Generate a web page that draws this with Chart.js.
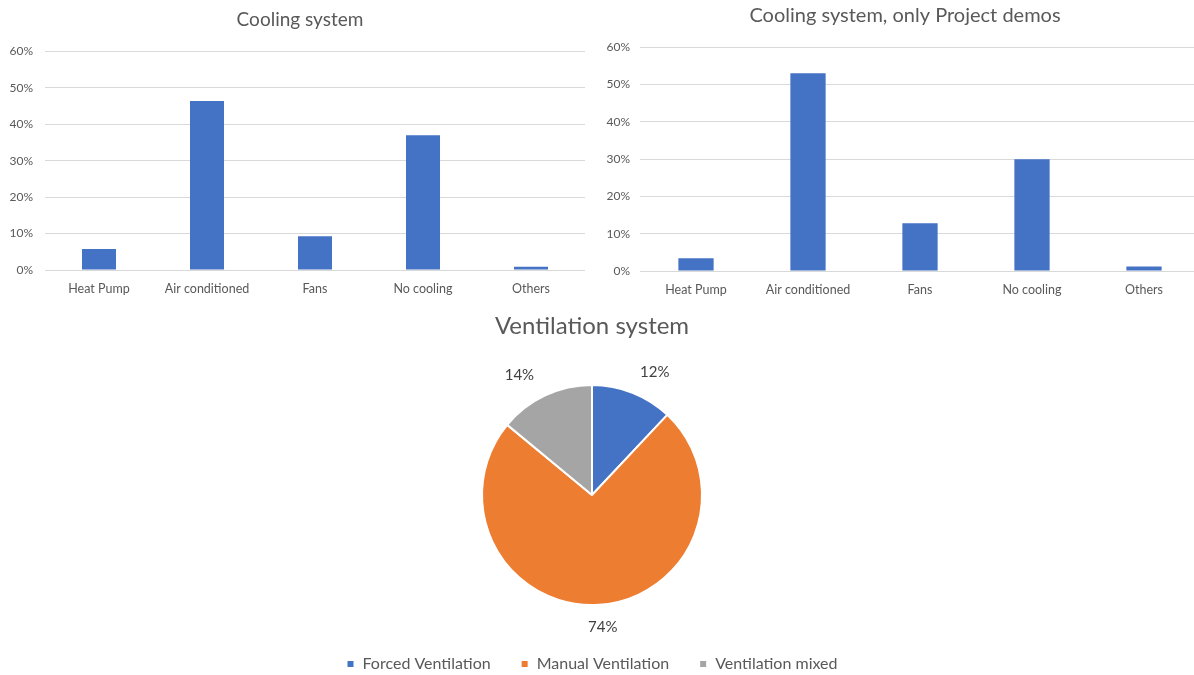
<!DOCTYPE html>
<html>
<head>
<meta charset="utf-8">
<script src="https://cdn.jsdelivr.net/npm/chart.js@4/dist/chart.umd.min.js"></script>
<style>
  html, body { margin: 0; padding: 0; background: #ffffff; overflow: hidden; }
  body { width: 1194px; height: 675px; position: relative; }
  .box { position: absolute; }
  #coolAll { left: 0; top: 0; width: 600px; height: 300px; }
  #coolDemo { left: 595px; top: 0; width: 620px; height: 300px; }
  #vent { left: 272px; top: 300px; width: 640px; height: 382px; }
</style>
</head>
<body>
<div class="box" id="coolAll"><canvas id="c1"></canvas></div>
<div class="box" id="coolDemo"><canvas id="c2"></canvas></div>
<div class="box" id="vent"><canvas id="c3"></canvas></div>
<script>
// Cooling system categories (shared by both bar charts)
const coolingCategories = ['Heat Pump', 'Air conditioned', 'Fans', 'No cooling', 'Others'];
// Share of buildings per cooling system, in percent
const coolingAll = [5.8, 46.4, 9.3, 37.0, 0.9];
const coolingDemos = [3.4, 53.0, 12.8, 29.9, 1.2];
// Value axis ticks (percent)
const percentTicks = [0, 10, 20, 30, 40, 50, 60];

// Ventilation system shares, in percent
const ventCategories = ['Forced Ventilation', 'Manual Ventilation', 'Ventilation mixed'];
const ventShares = [12, 74, 14];

const FONT = 'Lato, "Open Sans", sans-serif';
const TEXT = '#595959';
const GRID = '#d9d9d9';
const BLUE = '#4472C4';

Chart.defaults.font.family = FONT;
Chart.defaults.color = TEXT;
Chart.defaults.animation = false;

function barChart(canvasId, title, values, geom) {
  return new Chart(document.getElementById(canvasId), {
    type: 'bar',
    data: {
      labels: coolingCategories,
      datasets: [{
        data: values,
        backgroundColor: BLUE,
        borderWidth: 0,
        categoryPercentage: 1,
        barPercentage: 0.315
      }]
    },
    options: {
      responsive: true,
      maintainAspectRatio: false,
      layout: { padding: 0 },
      plugins: {
        legend: { display: false },
        tooltip: { enabled: false },
        title: {
          display: true,
          text: title,
          color: TEXT,
          font: { size: geom.titleSize, weight: 'normal', family: FONT, lineHeight: 1.2 },
          padding: { top: geom.titleTop, bottom: geom.titleBottom }
        }
      },
      scales: {
        x: {
          grid: { display: false, drawTicks: false },
          border: { display: false },
          ticks: { color: TEXT, font: { size: 12.5 }, padding: geom.xPad, maxRotation: 0 },
          afterFit: s => { s.height = geom.xHeight; }
        },
        y: {
          min: percentTicks[0],
          max: percentTicks[percentTicks.length - 1],
          afterBuildTicks: s => { s.ticks = percentTicks.map(v => ({ value: v })); },
          grid: { color: GRID, lineWidth: 1, drawTicks: false },
          border: { display: false },
          ticks: { color: TEXT, font: { size: 12 }, padding: geom.yPad, callback: v => v + '%' },
          afterFit: s => { s.width = 45; }
        },
        // empty right-hand margin of the plot
        gutter: {
          position: 'right',
          grid: { display: false, drawTicks: false },
          border: { display: false },
          ticks: { display: false },
          afterFit: s => { s.width = geom.gutter; }
        }
      }
    }
  });
}

barChart('c1', 'Cooling system', coolingAll,
  { gutter: 15, titleSize: 19, titleTop: 8.6, titleBottom: 20.1, xHeight: 30, xPad: 11, yPad: 12 });
barChart('c2', 'Cooling system, only Project demos', coolingDemos,
  { gutter: 15, titleSize: 20, titleTop: 4, titleBottom: 19, xHeight: 29, xPad: 11, yPad: 10 });

// Percent labels placed just outside each pie slice
const sliceLabels = {
  id: 'sliceLabels',
  afterDatasetsDraw(chart) {
    const ctx = chart.ctx;
    const meta = chart.getDatasetMeta(0);
    const values = chart.data.datasets[0].data;
    ctx.save();
    ctx.font = '15px ' + FONT;
    ctx.fillStyle = '#404040';
    ctx.textAlign = 'center';
    ctx.textBaseline = 'middle';
    meta.data.forEach((arc, i) => {
      const p = arc.getProps(['x', 'y', 'startAngle', 'endAngle', 'outerRadius'], true);
      const mid = (p.startAngle + p.endAngle) / 2;
      const lx = p.x + Math.cos(mid) * p.outerRadius * 1.55;
      const ly = p.y + Math.sin(mid) * p.outerRadius * 1.2;
      ctx.fillText(values[i] + '%', lx, ly);
    });
    ctx.restore();
  }
};

new Chart(document.getElementById('c3'), {
  type: 'pie',
  data: {
    labels: ventCategories,
    datasets: [{
      data: ventShares,
      backgroundColor: ['#4472C4', '#ED7D31', '#A5A5A5'],
      borderColor: '#ffffff',
      borderWidth: 2
    }]
  },
  options: {
    responsive: true,
    maintainAspectRatio: false,
    radius: 110,
    layout: { padding: 0 },
    plugins: {
      tooltip: { enabled: false },
      title: {
        display: true,
        text: 'Ventilation system',
        color: TEXT,
        font: { size: 24, weight: 'normal', family: FONT, lineHeight: 1.2 },
        padding: { top: 11.6, bottom: 23.6 }
      },
      legend: {
        display: true,
        position: 'bottom',
        labels: {
          color: TEXT,
          font: { size: 16, family: FONT },
          boxWidth: 8,
          boxHeight: 8,
          padding: 30
        }
      }
    }
  },
  plugins: [sliceLabels]
});
</script>
</body>
</html>
